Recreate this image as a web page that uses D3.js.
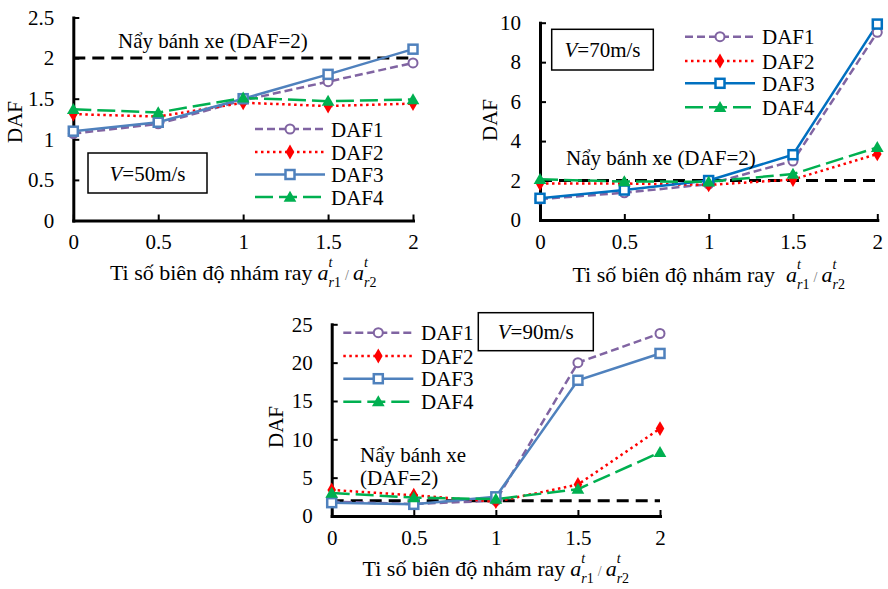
<!DOCTYPE html>
<html>
<head>
<meta charset="utf-8">
<script src="https://cdn.jsdelivr.net/npm/d3@7"></script>
<style>
  html, body { margin: 0; padding: 0; background: #fff; }
  svg { display: block; font-family: "Liberation Serif", "Times New Roman", serif; }
</style>
</head>
<body>
<svg id="chart" width="888" height="589"></svg>
<script>
// Amplitude ratio of rail roughness a_r1 / a_r2
const ratios = [0, 0.5, 1, 1.5, 2];
const xTickLabels = ["0", "0.5", "1", "1.5", "2"];
const seriesNames = ["DAF1", "DAF2", "DAF3", "DAF4"];

// V = 50 m/s
const v50_daf1 = [1.07, 1.19, 1.48, 1.71, 1.94];
const v50_daf2 = [1.31, 1.28, 1.45, 1.41, 1.44];
const v50_daf3 = [1.10, 1.21, 1.50, 1.80, 2.11];
const v50_daf4 = [1.37, 1.33, 1.51, 1.47, 1.49];
const v50_yTicks = [0, 0.5, 1, 1.5, 2, 2.5];

// V = 70 m/s
const v70_daf1 = [1.06, 1.38, 1.82, 2.99, 9.51];
const v70_daf2 = [1.85, 1.85, 1.78, 2.05, 3.35];
const v70_daf3 = [1.10, 1.52, 2.00, 3.31, 9.93];
const v70_daf4 = [2.06, 1.95, 1.94, 2.33, 3.68];
const v70_yTicks = [0, 2, 4, 6, 8, 10];

// V = 90 m/s
const v90_daf1 = [1.87, 1.57, 2.0, 20.0, 23.8];
const v90_daf2 = [3.4, 2.7, 1.87, 4.1, 11.4];
const v90_daf3 = [1.74, 1.52, 2.5, 17.7, 21.2];
const v90_daf4 = [3.0, 2.4, 2.2, 3.5, 8.3];
const v90_yTicks = [0, 5, 10, 15, 20, 25];

// Wheel lift-off threshold
const liftOffDAF = 2;

const FONT = 21;
const TITLE_FONT = 22;
const FONT_FAMILY = "'Liberation Serif', 'Times New Roman', serif";
const svg = d3.select("#chart");

function seriesStyles(blue) {
  return [
    { color: "#8064A2", dash: "8,4", marker: "circle" },
    { color: "#FF0000", dash: "2.5,3.5", marker: "diamond" },
    { color: blue, dash: null, marker: "square" },
    { color: "#00B050", dash: "18,6", marker: "triangle" }
  ];
}

function drawMarker(g, kind, color, x, y) {
  if (kind === "circle") {
    g.append("circle").attr("cx", x).attr("cy", y).attr("r", 4.5)
      .attr("fill", "#fff").attr("stroke", color).attr("stroke-width", 2);
  } else if (kind === "diamond") {
    g.append("path").attr("d", d3.symbol(d3.symbolDiamond, 64)())
      .attr("transform", `translate(${x},${y})`).attr("fill", color);
  } else if (kind === "square") {
    g.append("rect").attr("x", x - 4.5).attr("y", y - 4.5).attr("width", 9).attr("height", 9)
      .attr("fill", "#fff").attr("stroke", color).attr("stroke-width", 2.5);
  } else {
    g.append("path").attr("d", d3.symbol(d3.symbolTriangle, 70)())
      .attr("transform", `translate(${x},${y + 1})`).attr("fill", color);
  }
}

// Axis title with stacked super/subscripts: "Ti số biên độ nhám ray a^t_r1 / a^t_r2"
function drawXTitle(g, cx, baseline, gap) {
  const parts = [];
  let x = 0;
  function piece(str, opts) {
    const el = g.append("text").attr("x", x).attr("y", baseline + (opts.dy || 0))
      .attr("font-size", opts.size || TITLE_FONT)
      .attr("font-style", opts.italic ? "italic" : "normal")
      .attr("fill", opts.fill || "#000")
      .text(str);
    parts.push(el);
    return el.node().getComputedTextLength();
  }
  x += piece("Ti số biên độ nhám ray", {});
  x += gap;
  function aTerm(idx) {
    x += piece("a", { italic: true });
    const x0 = x;
    const wT = piece("t", { italic: true, size: 14, dy: -13 });
    x = x0;
    const wR = piece("r", { italic: true, size: 14, dy: 7 });
    x += wR;
    const w1 = piece(idx, { size: 14, dy: 7 });
    x = x0 + Math.max(wT, wR + w1);
  }
  aTerm("1");
  x += 4;
  x += piece("/", { size: 14, fill: "#777" });
  x += 4;
  aTerm("2");
  const total = x;
  parts.forEach(p => p.attr("x", +p.attr("x") + cx - total / 2));
}

function drawPanel(cfg) {
  const g = svg.append("g");
  const x = d3.scaleLinear().domain([0, 2]).range([cfg.x0, cfg.x1]);
  const y = d3.scaleLinear().domain([0, cfg.yMax]).range([cfg.y0, cfg.yTop]);
  const styles = seriesStyles(cfg.blue);

  // Lift-off reference line
  g.append("line")
    .attr("x1", x(0)).attr("x2", x(2))
    .attr("y1", y(liftOffDAF)).attr("y2", y(liftOffDAF))
    .attr("stroke", "#000").attr("stroke-width", 3).attr("stroke-dasharray", "12,7");

  // Axes, ticks pointing inwards
  const xAxis = d3.axisBottom(x).tickValues(ratios)
    .tickFormat((d, i) => xTickLabels[i]).tickSizeInner(-6).tickSizeOuter(0).tickPadding(14);
  const yAxis = d3.axisLeft(y).tickValues(cfg.yTicks)
    .tickFormat(d => String(d)).tickSizeInner(-6).tickSizeOuter(0).tickPadding(19);

  [[xAxis, `translate(0,${cfg.y0})`], [yAxis, `translate(${cfg.x0},0)`]].forEach(([ax, tr]) => {
    const a = g.append("g").attr("transform", tr).call(ax)
      .attr("font-family", FONT_FAMILY).attr("font-size", FONT);
    a.select(".domain").attr("stroke", "#000").attr("stroke-width", 3).attr("stroke-linecap", "square");
    a.selectAll(".tick line").attr("stroke", "#000").attr("stroke-width", 2);
    a.selectAll(".tick text").attr("fill", "#000");
  });

  // Series lines and markers
  const line = d3.line().x((d, i) => x(ratios[i])).y(d => y(d));
  cfg.series.forEach((vals, si) => {
    const s = styles[si];
    g.append("path").datum(vals).attr("d", line)
      .attr("fill", "none").attr("stroke", s.color).attr("stroke-width", 2.5)
      .attr("stroke-dasharray", s.dash);
  });
  cfg.series.forEach((vals, si) => {
    const s = styles[si];
    vals.forEach((v, i) => drawMarker(g, s.marker, s.color, x(ratios[i]), y(v)));
  });

  // Legend
  const L = cfg.legend;
  seriesNames.forEach((name, si) => {
    const s = styles[si];
    const ry = L.rows[si];
    g.append("line").attr("x1", L.x0).attr("x2", L.x1).attr("y1", ry).attr("y2", ry)
      .attr("stroke", s.color).attr("stroke-width", 2.5).attr("stroke-dasharray", s.dash);
    drawMarker(g, s.marker, s.color, (L.x0 + L.x1) / 2, ry);
    g.append("text").attr("x", L.tx).attr("y", ry + 7.5).attr("font-size", FONT).text(name);
  });

  // Speed box
  const B = cfg.box;
  g.append("rect").attr("x", B.x).attr("y", B.y).attr("width", B.w).attr("height", B.h)
    .attr("fill", "#fff").attr("stroke", "#000").attr("stroke-width", 1.5);
  const bt = g.append("text").attr("x", B.x + B.w / 2).attr("y", B.y + B.h / 2 + 7.5)
    .attr("text-anchor", "middle").attr("font-size", FONT);
  bt.append("tspan").attr("font-style", "italic").text("V");
  bt.append("tspan").text("=" + cfg.speed + "m/s");

  // Lift-off annotation
  cfg.note.lines.forEach((str, i) => {
    g.append("text").attr("x", cfg.note.x).attr("y", cfg.note.y + i * 23)
      .attr("font-size", FONT).text(str);
  });

  // Axis titles
  g.append("text")
    .attr("transform", `translate(${cfg.yLabelX},${cfg.yLabelY}) rotate(-90)`)
    .attr("text-anchor", "middle").attr("font-size", FONT).text("DAF");
  drawXTitle(g, (cfg.x0 + cfg.x1) / 2, cfg.titleY, cfg.titleGap);
}

drawPanel({
  x0: 73.3, x1: 413, y0: 220.5, yTop: 17.5, yMax: 2.5, yTicks: v50_yTicks,
  blue: "#4F81BD", speed: 50,
  series: [v50_daf1, v50_daf2, v50_daf3, v50_daf4],
  legend: { x0: 255, x1: 325, tx: 331, rows: [129, 152, 174.5, 197] },
  box: { x: 88, y: 153, w: 119, h: 40 },
  note: { x: 118, y: 48, lines: ["Nẩy bánh xe (DAF=2)"] },
  yLabelX: 22, yLabelY: 122, titleY: 280, titleGap: 5
});

drawPanel({
  x0: 540, x1: 877.3, y0: 220, yTop: 22.7, yMax: 10, yTicks: v70_yTicks,
  blue: "#0070C0", speed: 70,
  series: [v70_daf1, v70_daf2, v70_daf3, v70_daf4],
  legend: { x0: 685, x1: 755, tx: 762, rows: [36.7, 61, 83.3, 107.3] },
  box: { x: 551.7, y: 29.3, w: 101.6, h: 40.7 },
  note: { x: 566, y: 165, lines: ["Nẩy bánh xe (DAF=2)"] },
  yLabelX: 497, yLabelY: 120, titleY: 282, titleGap: 11
});

drawPanel({
  x0: 331.7, x1: 660, y0: 516, yTop: 324.3, yMax: 25, yTicks: v90_yTicks,
  blue: "#4F81BD", speed: 90,
  series: [v90_daf1, v90_daf2, v90_daf3, v90_daf4],
  legend: { x0: 343.3, x1: 413.3, tx: 421, rows: [332.7, 356, 378.7, 401.7] },
  box: { x: 478.3, y: 312.7, w: 115, h: 38 },
  note: { x: 360, y: 461.7, lines: ["Nẩy bánh xe", "(DAF=2)"] },
  yLabelX: 283, yLabelY: 427, titleY: 576, titleGap: 5
});
</script>
</body>
</html>
